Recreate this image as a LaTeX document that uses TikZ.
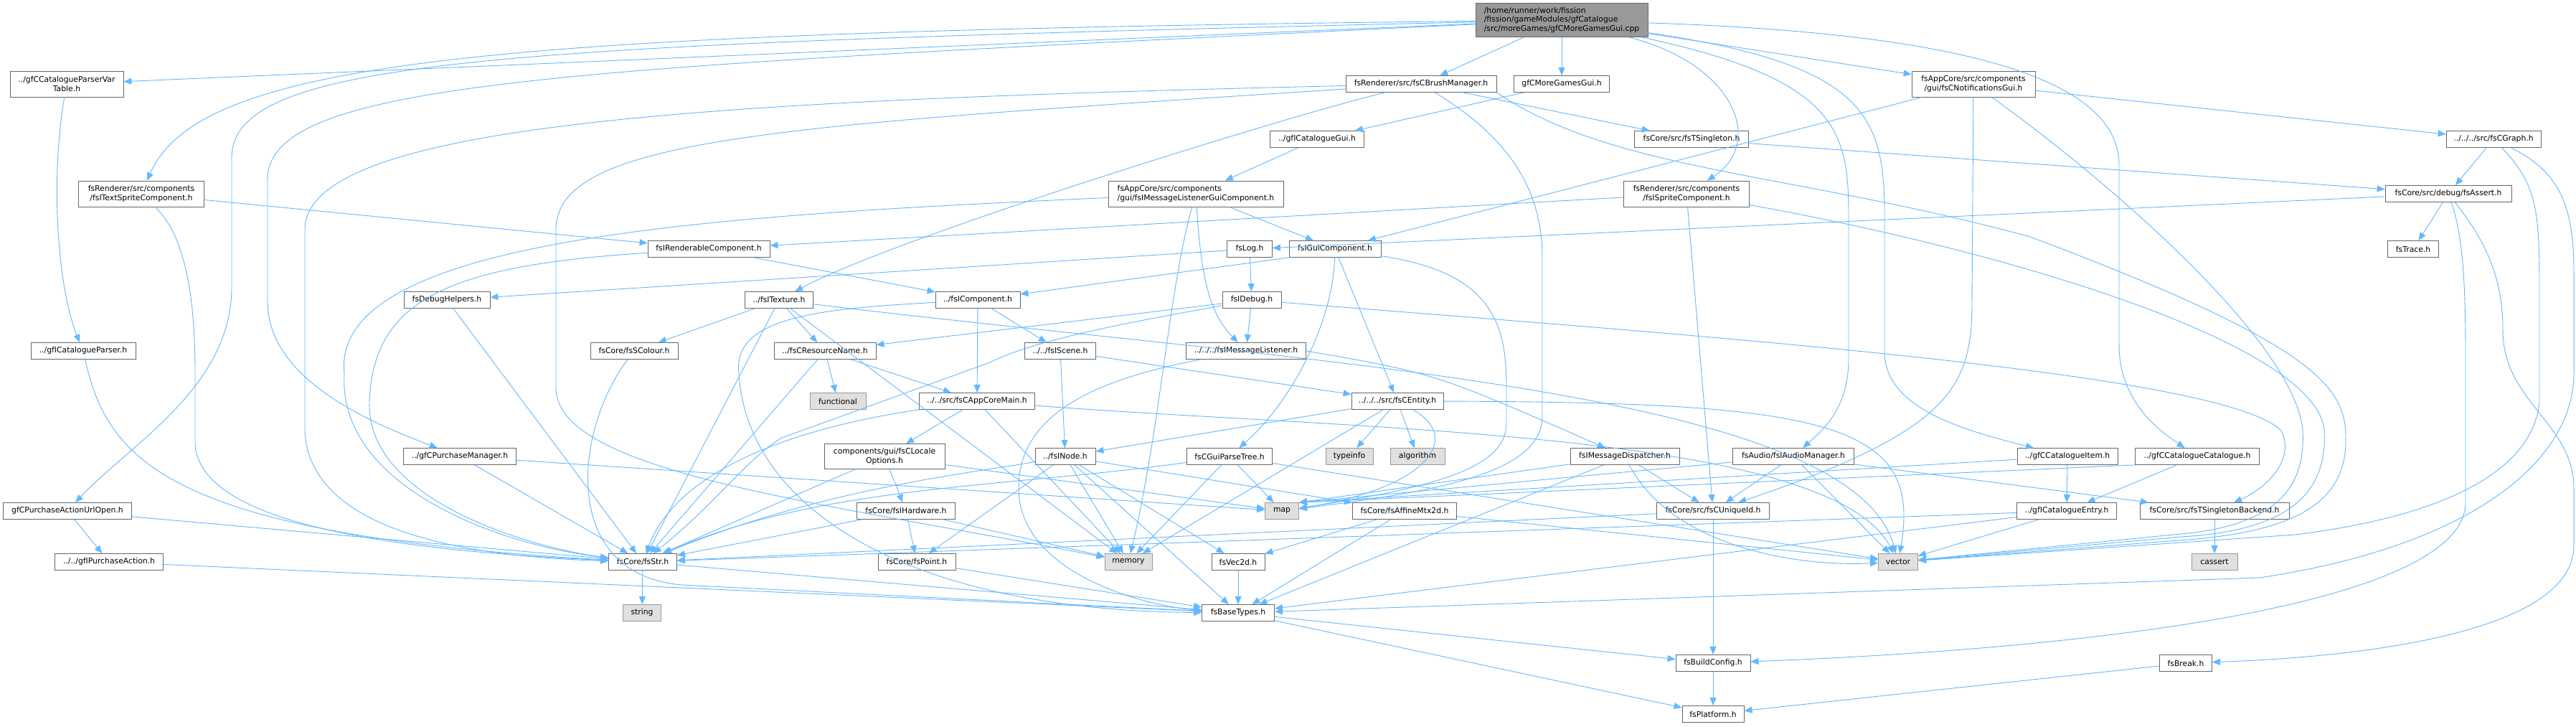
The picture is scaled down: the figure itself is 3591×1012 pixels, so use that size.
\documentclass[tikz,border=0pt]{standalone}
\usepackage{fontspec}
\newfontfamily\doxfont{DejaVu Sans}
\usetikzlibrary{arrows.meta}
\definecolor{edgeblue}{HTML}{63B8FF}
\definecolor{boxline}{HTML}{666666}
\definecolor{sysfill}{HTML}{E0E0E0}
\definecolor{sysline}{HTML}{999999}
\definecolor{rootfill}{HTML}{999999}

\begin{document}
\begin{tikzpicture}[x=1pt,y=-1pt,{hdr/.style={rectangle,draw=boxline,fill=white,line width=0.8pt,inner sep=0pt,minimum height=23pt,align=center,font=\doxfont\fontsize{10.8}{12.3}\selectfont}},{sys/.style={hdr,draw=sysline,fill=sysfill}},{rootbox/.style={hdr,fill=rootfill,align=left}},{inc/.style={draw=edgeblue,line width=0.9pt,-{Triangle[length=11pt,width=9pt]}}}]
	\fill[white] (0,0) rectangle (3591,1012);
	\useasboundingbox (0,0) rectangle (3591,1012);
	%%top rows
	\node[rootbox,minimum width=240pt,minimum height=47pt] (root) at (2177,28) {/home/runner/work/fission\\/fission/gameModules/gfCatalogue\\/src/moreGames/gfCMoreGamesGui.cpp};
	\node[hdr,minimum width=133pt] (moreGui) at (2177,117) {gfCMoreGamesGui.h};
	\node[hdr,minimum width=210pt] (brush) at (1981,117) {fsRenderer/src/fsCBrushManager.h};
	\node[hdr,minimum width=172pt,minimum height=36pt] (notif) at (2751,117) {fsAppCore/src/components\\/gui/fsCNotificationsGui.h};
	\node[hdr,minimum width=158pt,minimum height=36pt] (varTable) at (93,117) {../gfCCatalogueParserVar\\Table.h};
	\node[hdr,minimum width=175pt,minimum height=36pt] (textSprite) at (197,270) {fsRenderer/src/components\\/fsITextSpriteComponent.h};
	\node[hdr,minimum width=131pt] (catGui) at (1836,194) {../gfICatalogueGui.h};
	\node[hdr,minimum width=159pt] (singleton) at (2358,194) {fsCore/src/fsTSingleton.h};
	\node[hdr,minimum width=132pt] (graph) at (3476,194) {../../../src/fsCGraph.h};
	\node[hdr,minimum width=175pt,minimum height=36pt] (sprite) at (2351,270) {fsRenderer/src/components\\/fsISpriteComponent.h};
	\node[hdr,minimum width=244pt,minimum height=36pt,align=left] (msgGui) at (1667,270) {fsAppCore/src/components\\/gui/fsIMessageListenerGuiComponent.h};
	\node[hdr,minimum width=176pt] (assert) at (3413,270) {fsCore/src/debug/fsAssert.h};
	%%middle rows
	\node[hdr,minimum width=170pt] (renderable) at (988,347) {fsIRenderableComponent.h};
	\node[hdr,minimum width=63pt] (log) at (1742,347) {fsLog.h};
	\node[hdr,minimum width=128pt] (guiComp) at (1861,347) {fsIGuiComponent.h};
	\node[hdr,minimum width=71pt] (trace) at (3364,347) {fsTrace.h};
	\node[hdr,minimum width=120pt] (debugHelpers) at (623,418) {fsDebugHelpers.h};
	\node[hdr,minimum width=95pt] (texture) at (1086,418) {../fsITexture.h};
	\node[hdr,minimum width=118pt] (component) at (1363,418) {../fsIComponent.h};
	\node[hdr,minimum width=82pt] (idebug) at (1745,418) {fsIDebug.h};
	\node[hdr,minimum width=146pt] (catParser) at (116,489) {../gfICatalogueParser.h};
	\node[hdr,minimum width=122pt] (colour) at (884,489) {fsCore/fsSColour.h};
	\node[hdr,minimum width=142pt] (resName) at (1150,489) {../fsCResourceName.h};
	\node[hdr,minimum width=99pt] (scene) at (1478,489) {../../fsIScene.h};
	\node[hdr,minimum width=167pt] (msgListener) at (1737,489) {../../../fsIMessageListener.h};
	\node[sys,minimum width=78pt] (functional) at (1168,559) {functional};
	\node[hdr,minimum width=161pt] (appCore) at (1362,559) {../../src/fsCAppCoreMain.h};
	\node[hdr,minimum width=128pt] (entity) at (1948,559) {../../../src/fsCEntity.h};
	\node[hdr,minimum width=168pt,minimum height=35pt] (locale) at (1233,636) {components/gui/fsCLocale\\Options.h};
	\node[hdr,minimum width=157pt] (purchaseMgr) at (641,636) {../gfCPurchaseManager.h};
	\node[hdr,minimum width=84pt] (inode) at (1485,636) {../fsINode.h};
	\node[hdr,minimum width=119pt] (parseTree) at (1714,636) {fsCGuiParseTree.h};
	\node[sys,minimum width=66pt] (typeinfo) at (1881,636) {typeinfo};
	\node[sys,minimum width=76pt] (algorithm) at (1976,636) {algorithm};
	\node[hdr,minimum width=152pt] (msgDispatcher) at (2265,636) {fsIMessageDispatcher.h};
	\node[hdr,minimum width=169pt] (audio) at (2500,636) {fsAudio/fsIAudioManager.h};
	\node[hdr,minimum width=140pt] (catItem) at (2882,636) {../gfCCatalogueItem.h};
	\node[hdr,minimum width=173pt] (catCatalogue) at (3063,636) {../gfCCatalogueCatalogue.h};
	%%bottom rows
	\node[hdr,minimum width=179pt] (urlOpen) at (94,712) {gfCPurchaseActionUrlOpen.h};
	\node[hdr,minimum width=137pt] (hardware) at (1263,712) {fsCore/fsIHardware.h};
	\node[sys,minimum width=47pt] (map) at (1787,712) {map};
	\node[hdr,minimum width=145pt] (mtx) at (1958,712) {fsCore/fsAffineMtx2d.h};
	\node[hdr,minimum width=157pt] (uniqueId) at (2388,712) {fsCore/src/fsCUniqueId.h};
	\node[hdr,minimum width=139pt] (catEntry) at (2881,712) {../gfICatalogueEntry.h};
	\node[hdr,minimum width=208pt] (singletonBackend) at (3087,712) {fsCore/src/fsTSingletonBackend.h};
	\node[hdr,minimum width=151pt] (purchaseAction) at (152,783) {../../gfIPurchaseAction.h};
	\node[hdr,minimum width=95pt] (str) at (896,783) {fsCore/fsStr.h};
	\node[hdr,minimum width=108pt] (point) at (1278,783) {fsCore/fsPoint.h};
	\node[sys,minimum width=66pt] (memory) at (1573,783) {memory};
	\node[hdr,minimum width=74pt] (vec2d) at (1726,783) {fsVec2d.h};
	\node[sys,minimum width=55pt] (vector) at (2646,783) {vector};
	\node[sys,minimum width=64pt] (cassert) at (3087,783) {cassert};
	\node[sys,minimum width=53pt] (string) at (895,854) {string};
	\node[hdr,minimum width=101pt] (baseTypes) at (1726,854) {fsBaseTypes.h};
	\node[hdr,minimum width=104pt] (buildConfig) at (2388,924) {fsBuildConfig.h};
	\node[hdr,minimum width=73pt] (break) at (3047,924) {fsBreak.h};
	\node[hdr,minimum width=86pt] (platform) at (2388,995) {fsPlatform.h};

	%%includes of the source file
	\draw[inc] (root) -- (moreGui);
	\draw[inc] (root) -- (brush);
	\draw[inc] (root) -- (notif);
	\draw[inc] (root) -- (varTable);
	\draw[inc] (root) .. controls (700,45) and (280,80) .. (textSprite);
	\draw[inc] (root) .. controls (700,62) and (323,80) .. (323,220) -- (323,400) .. controls (323,540) and (180,620) .. (urlOpen);
	\draw[inc] (root) .. controls (800,95) and (373,110) .. (373,250) -- (373,420) .. controls (373,530) and (520,590) .. (purchaseMgr);
	\draw[inc] (root) .. controls (2420,90) and (2460,200) .. (sprite);
	\draw[inc] (root) .. controls (2560,110) and (2577,180) .. (2577,300) -- (2577,500) .. controls (2577,570) and (2540,600) .. (audio);
	\draw[inc] (root) .. controls (2600,90) and (2627,160) .. (2627,300) -- (2627,490) .. controls (2627,570) and (2740,600) .. (catItem);
	\draw[inc] (root) .. controls (2700,45) and (2954,100) .. (2954,230) -- (2954,480) .. controls (2954,560) and (3010,600) .. (catCatalogue);
	%%first level headers
	\draw[inc] (moreGui) -- (catGui);
	\draw[inc] (catGui) -- (msgGui);
	\draw[inc] (brush) .. controls (1800,160) and (1250,330) .. (texture);
	\draw[inc] (brush) -- (singleton);
	\draw[inc] (brush) .. controls (1000,140) and (425,170) .. (425,320) -- (425,600) .. controls (430,730) and (620,775) .. (str);
	\draw[inc] (brush) .. controls (1100,175) and (775,190) .. (775,320) -- (775,540) .. controls (775,660) and (1150,700) .. (memory);
	\draw[inc] (brush) .. controls (2100,190) and (2150,260) .. (2150,360) -- (2150,580) .. controls (2150,660) and (2000,685) .. (map);
	\draw[inc] (brush.south east) .. controls (2250,240) and (2500,240) .. (2830,330) .. controls (3230,480) and (3270,540) .. (3270,610) .. controls (3272,700) and (3200,740) .. (3050,752) -- (vector);
	\draw[inc] (notif) -- (guiComp);
	\draw[inc] (notif) -- (graph);
	\draw[inc] (notif) -- (2749,420) .. controls (2749,540) and (2720,600) .. (uniqueId);
	\draw[inc] (notif) .. controls (2950,260) and (3200,480) .. (3210,600) .. controls (3215,690) and (3160,735) .. (3030,745) -- (vector);
	\draw[inc] (varTable) .. controls (70,250) and (80,400) .. (catParser);
	\draw[inc] (catParser) .. controls (150,640) and (230,745) .. (str);
	\draw[inc] (textSprite) -- (renderable);
	\draw[inc] (textSprite) .. controls (260,330) and (272,420) .. (272,520) -- (272,620) .. controls (280,720) and (500,765) .. (str);
	\draw[inc] (sprite) -- (renderable);
	\draw[inc] (sprite) -- (uniqueId);
	\draw[inc] (sprite) .. controls (2800,350) and (3230,480) .. (3240,600) .. controls (3245,695) and (3180,740) .. (3040,748) -- (vector);
	\draw[inc] (msgGui) -- (guiComp);
	\draw[inc] (msgGui) .. controls (1675,400) and (1690,440) .. (msgListener);
	\draw[inc] (msgGui) .. controls (1000,300) and (460,330) .. (480,520) .. controls (470,680) and (700,760) .. (str);
	\draw[inc] (msgGui) .. controls (1630,400) and (1617,600) .. (memory);
	%%components
	\draw[inc] (renderable) -- (component);
	\draw[inc] (renderable) .. controls (620,370) and (520,420) .. (515,560) .. controls (510,700) and (750,765) .. (str);
	\draw[inc] (guiComp.south west) -- (component);
	\draw[inc] (guiComp) -- (entity);
	\draw[inc] (guiComp) .. controls (1858,450) and (1800,560) .. (parseTree);
	\draw[inc] (guiComp) .. controls (2080,380) and (2100,450) .. (2100,540) -- (2100,590) .. controls (2100,655) and (1990,680) .. (map);
	\draw[inc] (log) -- (idebug);
	\draw[inc] (log) -- (debugHelpers);
	\draw[inc] (idebug) -- (msgListener);
	\draw[inc] (idebug) -- (resName);
	\draw[inc] (idebug) .. controls (1600,445) and (1450,470) .. (1380,505) -- (1090,610) .. controls (1040,640) and (1000,700) .. (str);
	\draw[inc] (idebug) .. controls (2400,470) and (3100,520) .. (3180,600) .. controls (3200,640) and (3160,680) .. (singletonBackend);
	\draw[inc] (texture) -- (colour);
	\draw[inc] (texture) -- (resName);
	\draw[inc] (texture) -- (str);
	\draw[inc] (texture) -- (memory);
	\draw[inc] (texture) .. controls (1800,505) and (2580,540) .. (vector);
	\draw[inc] (component) -- (appCore);
	\draw[inc] (component) -- (scene);
	\draw[inc] (component) .. controls (1150,430) and (1020,440) .. (1030,520) .. controls (1040,700) and (1250,850) .. (baseTypes);
	\draw[inc] (resName) -- (functional);
	\draw[inc] (resName) -- (appCore);
	\draw[inc] (resName) -- (str);
	\draw[inc] (scene) -- (inode);
	\draw[inc] (scene) -- (entity);
	\draw[inc] (msgListener.east) .. controls (2000,520) .. (msgDispatcher);
	\draw[inc] (msgListener) .. controls (1520,530) and (1420,580) .. (1420,680) .. controls (1420,800) and (1600,845) .. (baseTypes);
	%%core headers
	\draw[inc] (appCore) -- (locale);
	\draw[inc] (appCore) -- (memory);
	\draw[inc] (appCore) .. controls (1150,590) and (950,640) .. (str);
	\draw[inc] (appCore) .. controls (1900,600) and (2550,600) .. (vector);
	\draw[inc] (entity) -- (typeinfo);
	\draw[inc] (entity) -- (algorithm);
	\draw[inc] (entity) -- (inode);
	\draw[inc] (entity) .. controls (2040,610) and (1990,680) .. (map);
	\draw[inc] (entity) -- (memory);
	\draw[inc] (entity) .. controls (2550,560) and (2680,590) .. (vector);
	\draw[inc] (locale) -- (hardware);
	\draw[inc] (locale) -- (map);
	\draw[inc] (locale) -- (str);
	\draw[inc] (inode) .. controls (1350,660) and (1150,680) .. (str);
	\draw[inc] (inode) -- (memory);
	\draw[inc] (inode) -- (point);
	\draw[inc] (inode) -- (vec2d);
	\draw[inc] (inode) -- (mtx);
	\draw[inc] (inode) -- (baseTypes);
	\draw[inc] (parseTree) -- (map);
	\draw[inc] (parseTree) -- (memory);
	\draw[inc] (parseTree) .. controls (1400,680) and (1150,675) .. (str);
	\draw[inc] (parseTree) -- (vector);
	\draw[inc] (msgDispatcher) -- (map.north east);
	\draw[inc] (msgDispatcher) -- (uniqueId);
	\draw[inc] (msgDispatcher) .. controls (2330,760) and (2500,790) .. (vector);
	\draw[inc] (msgDispatcher) -- (baseTypes);
	\draw[inc] (audio) -- (map.north east);
	\draw[inc] (audio) -- (uniqueId);
	\draw[inc] (audio) -- (vector);
	\draw[inc] (audio) -- (singletonBackend);
	\draw[inc] (catItem) -- (catEntry);
	\draw[inc] (catItem) -- (map.north east);
	\draw[inc] (catCatalogue) -- (catEntry);
	\draw[inc] (catCatalogue.south west) -- (map.north east);
	\draw[inc] (catEntry) -- (str);
	\draw[inc] (catEntry) -- (baseTypes);
	\draw[inc] (catEntry) -- (vector);
	\draw[inc] (purchaseMgr) -- (str);
	\draw[inc] (purchaseMgr) -- (map);
	\draw[inc] (urlOpen) -- (purchaseAction);
	\draw[inc] (urlOpen) -- (str);
	\draw[inc] (purchaseAction) -- (baseTypes);
	\draw[inc] (debugHelpers) -- (str);
	\draw[inc] (colour) .. controls (800,600) and (780,800) .. (950,815) -- (baseTypes);
	\draw[inc] (hardware) -- (str);
	\draw[inc] (hardware) -- (point);
	\draw[inc] (hardware) -- (memory);
	\draw[inc] (mtx) -- (vec2d);
	\draw[inc] (mtx) -- (baseTypes);
	\draw[inc] (mtx) -- (vector);
	\draw[inc] (uniqueId) -- (buildConfig);
	\draw[inc] (uniqueId) -- (str);
	\draw[inc] (point) -- (baseTypes);
	\draw[inc] (vec2d) -- (baseTypes);
	%%debug headers
	\draw[inc] (singleton) -- (assert);
	\draw[inc] (graph) -- (assert);
	\draw[inc] (graph) .. controls (3540,260) and (3540,300) .. (3540,420) -- (3540,560) .. controls (3530,660) and (3400,720) .. (3200,745) -- (vector);
	\draw[inc] (graph) .. controls (3570,240) and (3588,290) .. (3588,380) -- (3588,520) .. controls (3588,640) and (3450,760) .. (3150,805) -- (baseTypes);
	\draw[inc] (assert) -- (trace);
	\draw[inc] (assert) .. controls (3434,330) and (3437,400) .. (3437,500) -- (3437,700) .. controls (3437,830) and (3000,900) .. (buildConfig);
	\draw[inc] (assert) .. controls (3460,330) and (3489,380) .. (3489,460) .. controls (3489,560) and (3588,590) .. (3588,680) -- (3588,760) .. controls (3588,880) and (3300,915) .. (break);
	\draw[inc] (assert) -- (log);
	\draw[inc] (singletonBackend) -- (cassert);
	%%base headers
	\draw[inc] (str) -- (string);
	\draw[inc] (str) -- (baseTypes);
	\draw[inc] (baseTypes) -- (buildConfig);
	\draw[inc] (baseTypes) -- (platform);
	\draw[inc] (buildConfig) -- (platform);
	\draw[inc] (break) -- (platform);
\end{tikzpicture}
\end{document}
